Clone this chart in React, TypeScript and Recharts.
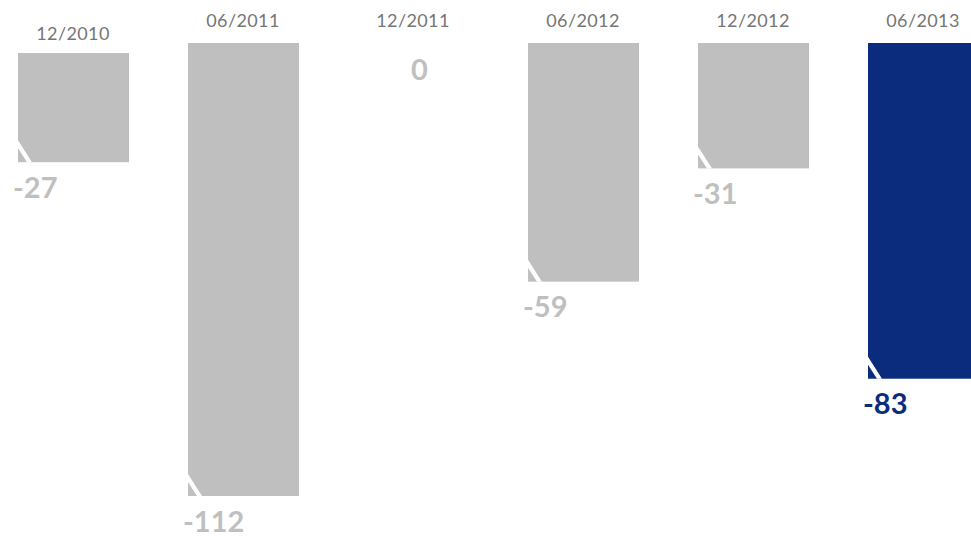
import React from "react"
import { BarChart, Bar, XAxis, YAxis, Cell, LabelList } from "recharts"

// half-year periods and the change in each one
const periods = ["12/2010", "06/2011", "12/2011", "06/2012", "12/2012", "06/2013"]
const changes = [-27, -112, 0, -59, -31, -83]
const highlightPeriod = "06/2013"

const GREY = "#BFBFBF"
const NAVY = "#0B2C7C"
const FONT = "Lato, 'Open Sans', sans-serif"

const data = periods.map((p, i) => ({ period: p, value: changes[i] }))

// the first column sits a little lower than the rest in the original
const dropFor = (index: number) => (index === 0 ? 10 : 0)

const NotchedBar = (props: any) => {
  const { x, y, width, height, fill, index } = props
  const h = Math.abs(height)
  if (!h || h < 1) return null
  const top = Math.min(y, y + height) + dropFor(index)
  const b = top + h
  return (
    <g>
      <rect x={x} y={top} width={width} height={h} fill={fill} />
      {/* white folded-corner stripe */}
      <polygon
        points={`${x},${b - 22} ${x + 14},${b} ${x + 9},${b} ${x},${b - 14}`}
        fill="#ffffff"
      />
    </g>
  )
}

const ValueLabel = (props: any) => {
  const { x, y, width, height, value, index } = props
  const bottom = Math.max(y, y + (height || 0)) + dropFor(index)
  const color = periods[index] === highlightPeriod ? NAVY : GREY
  const isZero = Number(value) === 0
  return (
    <text
      x={isZero ? x + width / 2 + 6 : x - 5}
      y={bottom + (isZero ? 25 : 24)}
      textAnchor={isZero ? "middle" : "start"}
      dominantBaseline="central"
      fill={color}
      fontFamily={FONT}
      fontWeight={700}
      fontSize={29}
    >
      {value}
    </text>
  )
}

const PeriodTick = (props: any) => {
  const { x, y, payload, index } = props
  return (
    <text
      x={x}
      y={y - 23 + (index === 0 ? 13 : 0)}
      textAnchor="middle"
      dominantBaseline="central"
      fill="#767676"
      fontFamily={FONT}
      fontSize={18}
      letterSpacing={0.4}
    >
      {payload.value}
    </text>
  )
}

export default function App() {
  return (
    <div
      style={{
        position: "absolute",
        left: 0,
        top: 0,
        width: 971,
        height: 538,
        overflow: "hidden",
        background: "#ffffff",
      }}
    >
      <div style={{ position: "absolute", left: -12.5, top: 0 }}>
        <BarChart
          width={1020}
          height={538}
          data={data}
          margin={{ top: 0, right: 0, left: 0, bottom: 42 }}
          barSize={111}
        >
          <XAxis
            dataKey="period"
            orientation="top"
            height={43}
            axisLine={false}
            tickLine={false}
            tickSize={0}
            tickMargin={0}
            interval={0}
            tick={<PeriodTick />}
          />
          <YAxis hide domain={[-112, 0]} />
          <Bar dataKey="value" isAnimationActive={false} shape={<NotchedBar />}>
            {data.map((d, i) => (
              <Cell key={`cell-${i}`} fill={d.period === highlightPeriod ? NAVY : GREY} />
            ))}
            <LabelList dataKey="value" content={<ValueLabel />} />
          </Bar>
        </BarChart>
      </div>
    </div>
  )
}
